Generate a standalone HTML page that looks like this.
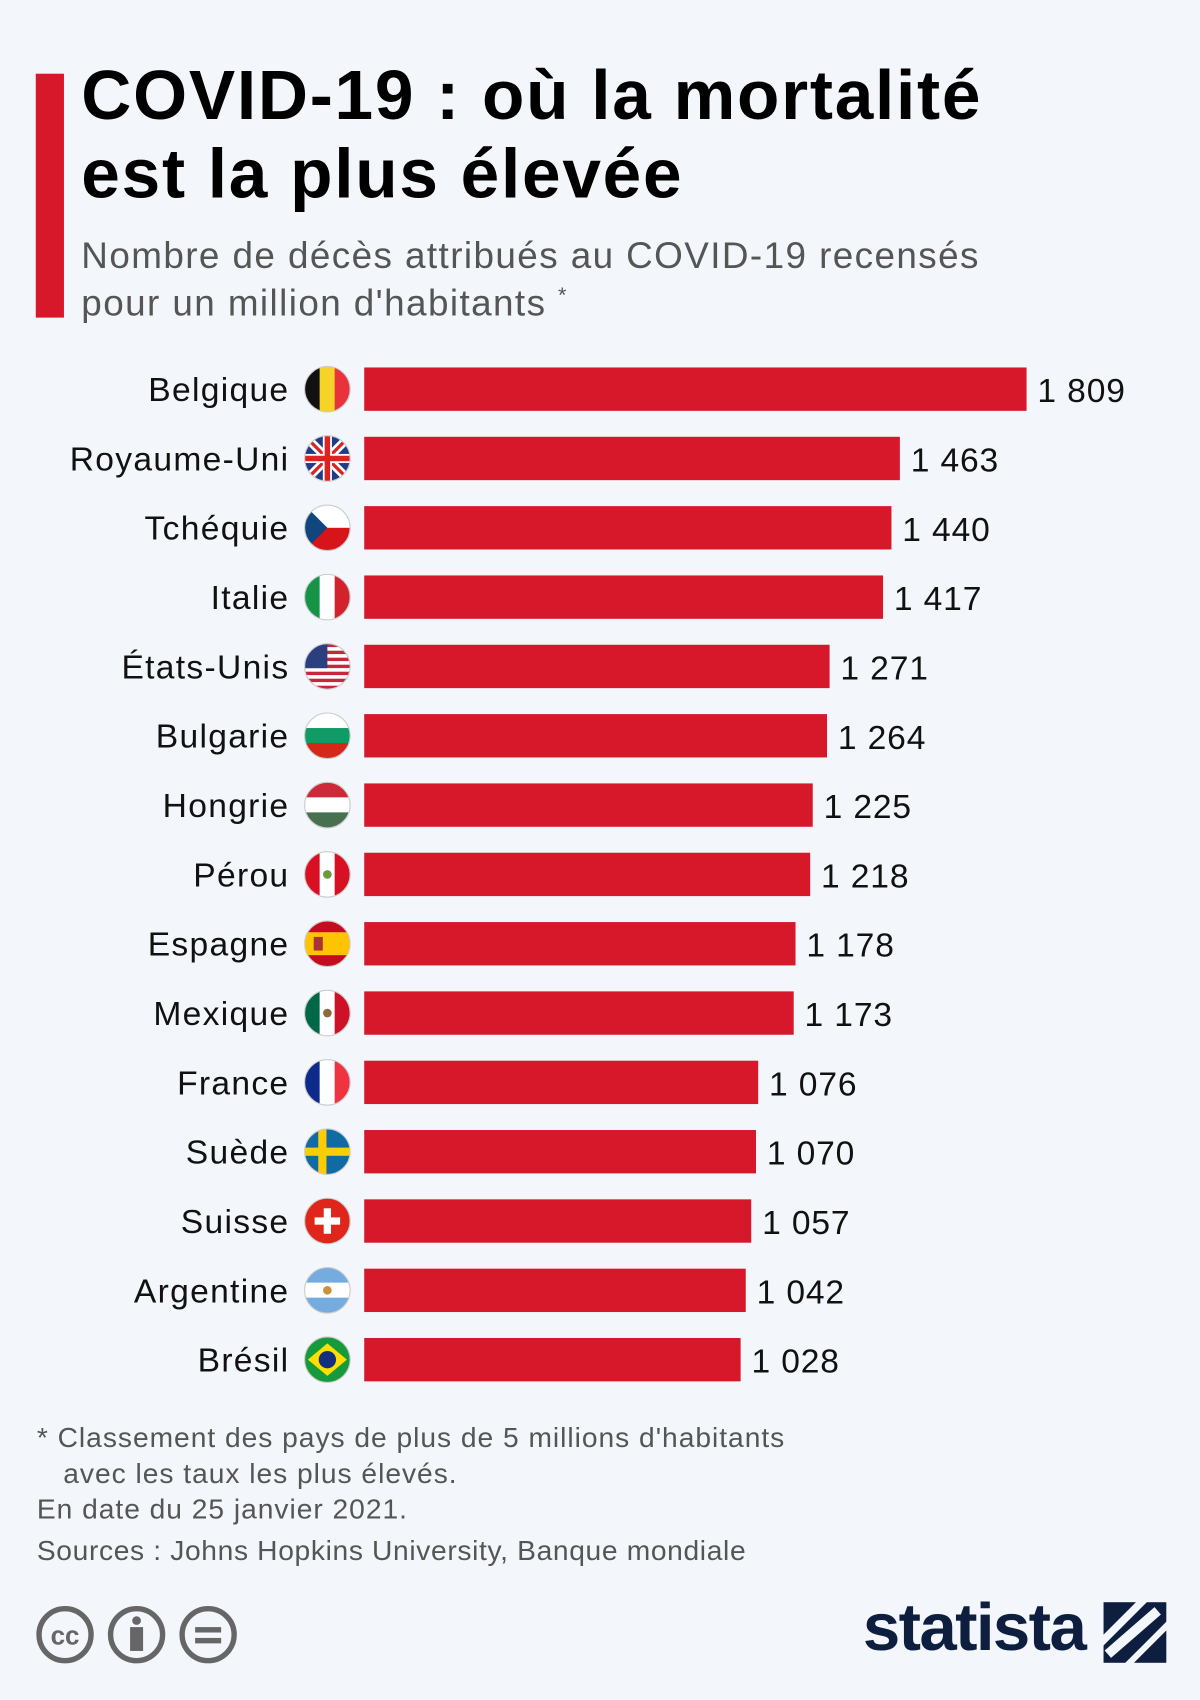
<!DOCTYPE html>
<html><head><meta charset="utf-8"><style>
html,body{margin:0;padding:0;background:#f3f6fa;}
#wrap{width:1107px;height:1568px;transform:scale(1.08401);transform-origin:0 0;position:relative;font-family:"Liberation Sans",sans-serif;}
.t{position:absolute;white-space:nowrap;}
sup{line-height:0;}
</style></head><body>
<div id="wrap">
<div style="position:absolute;left:33px;top:68px;width:26px;height:225px;background:#d7182a"></div>
<div class="t" style="left:75px;top:52px;font-size:64px;font-weight:bold;line-height:72px;color:#000;letter-spacing:1.6px">COVID-19 : où la mortalité<br>est la plus élevée</div>
<div class="t" style="left:75px;top:214px;font-size:34px;line-height:44px;color:#555;letter-spacing:1.3px">Nombre de décès attribués au COVID-19 recensés<br>pour un million d'habitants <sup style="font-size:20px">*</sup></div>
<svg id="chart" width="1107" height="1300" style="position:absolute;left:0;top:0"></svg>
<div class="t" style="left:34px;top:1310px;font-size:26px;line-height:33px;color:#555;letter-spacing:0.9px">* Classement des pays de plus de 5 millions d'habitants<br>&nbsp;&nbsp;&nbsp;avec les taux les plus élevés.<br>En date du 25 janvier 2021.</div>
<div class="t" style="left:34px;top:1415px;font-size:26px;color:#555;letter-spacing:0.6px">Sources : Johns Hopkins University, Banque mondiale</div>
<svg width="220" height="70" style="position:absolute;left:28px;top:1474px">
<g fill="none" stroke="#666" stroke-width="5"><circle cx="32" cy="34" r="24"/><circle cx="98" cy="34" r="24"/><circle cx="164" cy="34" r="24"/></g>
<text x="32" y="43" font-size="24" font-weight="bold" fill="#666" text-anchor="middle" font-family="Liberation Sans">cc</text>
<circle cx="98" cy="21" r="4" fill="#666"/><rect x="92" y="27" width="12" height="22" fill="#666"/>
<rect x="152" y="27" width="24" height="5" fill="#666"/><rect x="152" y="37" width="24" height="5" fill="#666"/>
</svg>
<div class="t" style="left:796px;top:1466px;font-size:62px;font-weight:bold;color:#0e1e3e;letter-spacing:-1.5px">statista</div>
<svg width="58" height="56" style="position:absolute;left:1018px;top:1478px"><path d="M0 0H58V18L20 56H0V40L40 0Z" fill="#0e1e3e"/><path d="M0 0H30L0 30Z M58 56H28L58 26Z" fill="#0e1e3e"/><path d="M4 48 L50 8" stroke="#f3f6fa" stroke-width="9"/></svg>
</div>
<script>
const countries=["Belgique","Royaume-Uni","Tchéquie","Italie","États-Unis","Bulgarie","Hongrie","Pérou","Espagne","Mexique","France","Suède","Suisse","Argentine","Brésil"];
const values=[1809,1463,1440,1417,1271,1264,1225,1218,1178,1173,1076,1070,1057,1042,1028];
const valueLabels=["1 809","1 463","1 440","1 417","1 271","1 264","1 225","1 218","1 178","1 173","1 076","1 070","1 057","1 042","1 028"];
const flagCodes=["be","gb","cz","it","us","bg","hu","pe","es","mx","fr","se","ch","ar","br"];
const NS="http://www.w3.org/2000/svg";
const svg=document.getElementById("chart");
const x0=336,pxPer=611/1809,y0=359,pitch=63.95,bh=40;
const xs=v=>x0+v*pxPer, ys=i=>y0+i*pitch;
function mk(t,a,p){const e=document.createElementNS(NS,t);for(const k in a)e.setAttribute(k,a[k]);(p||svg).appendChild(e);return e;}
function flag(code,cx,cy,g){const r=21,L=cx-r,T=cy-r,W=2*r;
 const R=(x,y,w,h,f)=>mk("rect",{x:L+x*W,y:T+y*W,width:w*W,height:h*W,fill:f},g);
 const v3=(a,b,c)=>{R(0,0,.34,1,a);R(.33,0,.34,1,b);R(.66,0,.34,1,c);};
 const h3=(a,b,c)=>{R(0,0,1,.34,a);R(0,.33,1,.34,b);R(0,.66,1,.34,c);};
 switch(code){
 case"be":v3("#111","#f5d328","#e8323c");break;
 case"gb":R(0,0,1,1,"#1f3c87");mk("path",{d:`M${L} ${T}L${L+W} ${T+W}M${L+W} ${T}L${L} ${T+W}`,stroke:"#fff","stroke-width":8},g);mk("path",{d:`M${L} ${T}L${L+W} ${T+W}M${L+W} ${T}L${L} ${T+W}`,stroke:"#d22",'stroke-width':3},g);R(.4,0,.2,1,"#fff");R(0,.4,1,.2,"#fff");R(.44,0,.12,1,"#d22");R(0,.44,1,.12,"#d22");break;
 case"cz":R(0,0,1,.5,"#fff");R(0,.5,1,.5,"#d7141a");mk("path",{d:`M${L} ${T}L${cx} ${cy}L${L} ${T+W}Z`,fill:"#11457e"},g);break;
 case"it":v3("#159447","#fff","#d2232c");break;
 case"us":for(let i=0;i<7;i++){R(0,i*2/13,1,1/13,"#c8263a");R(0,(i*2+1)/13,1,1/13,"#fff");}R(0,0,.5,7/13,"#2b3f7f");break;
 case"bg":h3("#fff","#119a66","#d62718");break;
 case"hu":h3("#ce2939","#fff","#477050");break;
 case"pe":v3("#d91023","#fff","#d91023");mk("circle",{cx,cy,r:4,fill:"#6a9a3a"},g);break;
 case"es":R(0,0,1,.25,"#c60b1e");R(0,.25,1,.5,"#ffc400");R(0,.75,1,.25,"#c60b1e");R(.2,.35,.2,.3,"#a33");break;
 case"mx":v3("#006847","#fff","#ce1126");mk("circle",{cx,cy,r:4,fill:"#8a6a3a"},g);break;
 case"fr":v3("#0d2a8a","#fff","#ef3340");break;
 case"se":R(0,0,1,1,"#106aa4");R(.3,0,.18,1,"#fecc00");R(0,.41,1,.18,"#fecc00");break;
 case"ch":R(0,0,1,1,"#e0251b");R(.42,.22,.16,.56,"#fff");R(.22,.42,.56,.16,"#fff");break;
 case"ar":h3("#74acdf","#fff","#74acdf");mk("circle",{cx,cy,r:4,fill:"#c8923a"},g);break;
 case"br":R(0,0,1,1,"#159a3c");mk("path",{d:`M${L+3} ${cy}L${cx} ${T+6}L${L+W-3} ${cy}L${cx} ${T+W-6}Z`,fill:"#fedf00"},g);mk("circle",{cx,cy,r:8,fill:"#13307f"},g);break;}
}
countries.forEach((c,i)=>{const y=ys(i);
 const b=mk("rect",{x:x0,y:y-bh/2,width:xs(values[i])-x0,height:bh,fill:"#d7182a"});
 
 
 const l=mk("text",{x:267,y:y+11,"text-anchor":"end","font-size":31,fill:"#111","font-family":"Liberation Sans","letter-spacing":"1.2"});l.textContent=c;
 
 
 const v=mk("text",{x:xs(values[i])+10,y:y+12,"font-size":31,fill:"#111","font-family":"Liberation Sans","letter-spacing":"0.8"});v.textContent=valueLabels[i];
 
 
 const g=mk("g",{});
 
 
 const cp=mk("clipPath",{id:"cp"+i},g);mk("circle",{cx:302,cy:y,r:21},cp);
 const inner=mk("g",{"clip-path":`url(#cp${i})`},g);flag(flagCodes[i],302,y,inner);
 mk("circle",{cx:302,cy:y,r:21,fill:"none",stroke:"#ccc","stroke-width":1},g);
});
</script>
</body></html>
